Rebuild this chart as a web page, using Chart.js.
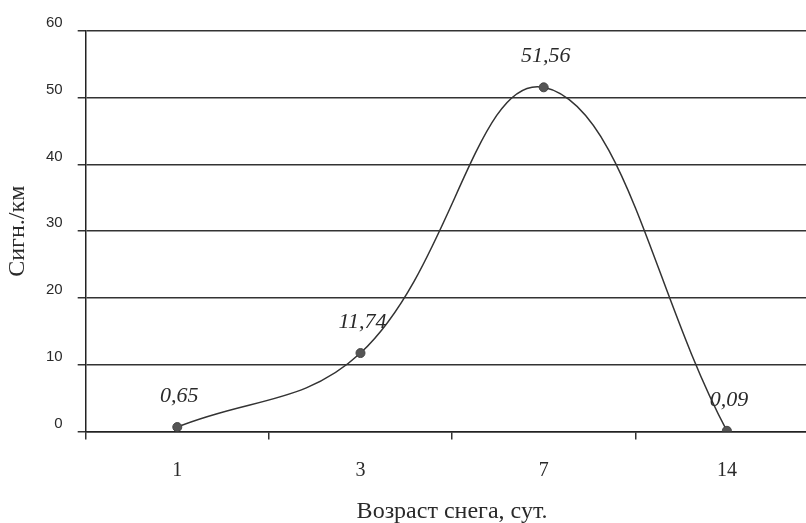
<!DOCTYPE html>
<html>
<head>
<meta charset="utf-8">
<script src="https://cdn.jsdelivr.net/npm/chart.js@4"></script>
<style>
  html, body { margin: 0; padding: 0; background: #fff; overflow: hidden; }
  canvas { display: block; }
</style>
</head>
<body>
<canvas id="chartLine" width="824" height="523"></canvas>
<script>
const ages = ["1", "3", "7", "14"];
const signals = [0.65, 11.74, 51.56, 0.09];
const signalLabels = ["0,65", "11,74", "51,56", "0,09"];
const yTicks = [0, 10, 20, 30, 40, 50, 60];

const ink = "#2a2a2a";

// italic value labels above each point
const pointLabels = {
    id: "pointLabels",
    afterDatasetsDraw(chart) {
    const ctx = chart.ctx;
    const meta = chart.getDatasetMeta(0);
    ctx.save();
    ctx.font = "italic 22px 'Liberation Serif'";
    ctx.fillStyle = ink;
    ctx.textAlign = "center";
    ctx.textBaseline = "middle";
    meta.data.forEach((pt, i) => {
        ctx.fillText(signalLabels[i], pt.x + 2, pt.y - 31);
    });
    ctx.restore();
    },
};

const chartLine = new Chart("chartLine", {
    type: "line",
    data: {
    labels: ages,
    datasets: [
        {
        label: "",
        data: signals,
        borderColor: "#333",
        borderWidth: 1.5,
        tension: 0.4,
        pointRadius: 4.5,
        pointBackgroundColor: "#555",
        pointBorderColor: "#444",
        pointBorderWidth: 1,
        fill: false,
        },
    ],
    },
    options: {
    responsive: false,
    animation: false,
    layout: {
        padding: { top: 31, right: 0, bottom: 0, left: 0 },
    },
    plugins: {
        legend: { display: false },
        tooltip: { enabled: false },
    },
    scales: {
        y: {
        min: 0,
        max: 60,
        afterBuildTicks: (scale) => {
            scale.ticks = yTicks.map((v) => ({ value: v }));
        },
        grid: {
            color: "#333",
            lineWidth: 1.5,
            tickLength: 8,
        },
        border: { color: "#222", width: 1.5 },
        ticks: {
            color: ink,
            padding: 15,
            labelOffset: -8,
            font: { family: "'Liberation Sans'", size: 15 },
        },
        title: {
            display: true,
            text: "Сигн./км",
            color: ink,
            font: { family: "'Liberation Serif'", size: 24, lineHeight: 1 },
            padding: { top: 6, bottom: 1 },
        },
        },
        x: {
        offset: true,
        grid: {
            offset: true,
            drawOnChartArea: false,
            color: "#333",
            lineWidth: 1.5,
            tickLength: 8,
        },
        border: { color: "#222", width: 1.5 },
        ticks: {
            color: ink,
            padding: 21,
            font: { family: "'Liberation Serif'", size: 20, lineHeight: 1 },
        },
        title: {
            display: true,
            text: "Возраст снега, сут.",
            color: ink,
            font: { family: "'Liberation Serif'", size: 24, lineHeight: 0.9 },
            padding: { top: 0, bottom: 0 },
        },
        },
    },
    },
    plugins: [pointLabels],
});
</script>
</body>
</html>
